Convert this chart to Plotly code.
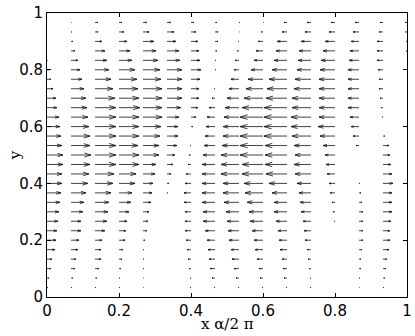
#!/usr/bin/env python3
"""
Quiver plot of the horizontal velocity field u(x, y) over one wavelength.
"""

import plotly.graph_objects as go

# --- Data: grid and horizontal velocity samples ---
# columns: x (in units of alpha/2pi), rows: y from top to bottom
x_cols = [0.0, 0.0667, 0.1333, 0.2, 0.2667, 0.3333, 0.4, 0.4667,
          0.5333, 0.6, 0.6667, 0.7333, 0.8, 0.8667, 0.9333, 1.0]

y_rows = [0.9667, 0.9333, 0.9, 0.8667, 0.8333, 0.8, 0.7667, 0.7333,
          0.7, 0.6667, 0.6333, 0.6, 0.5667, 0.5333, 0.5, 0.4667,
          0.4333, 0.4, 0.3667, 0.3333, 0.3, 0.2667, 0.2333, 0.2,
          0.1667, 0.1333, 0.1, 0.0667, 0.0333]

# u on the grid, one list per row of y_rows (v = 0 everywhere)
u_rows = [
    [0, 0.5, 3, 3, 4, 4, 3, 2, 1, 0.5, -3, -4, -4, -4, -3, -2],
    [0, 1, 3, 5, 6, 7, 5, 3, 0.5, -2, -5, -6, -6, -6, -4, -1.5],
    [0, 2, 7, 8, 11, 9, 7, 3, -1, -5, -10, -10, -10, -8, -6, -1],
    [0, 4, 10, 11, 13, 12, 8, 2, -2, -7, -11, -12, -12, -9, -6, -1],
    [0.5, 7, 12, 13, 15, 13, 9, 1, -4, -9, -13, -13, -14, -10, -6, 0],
    [2, 9, 14, 16, 17, 15, 10, 1, -5, -12, -15, -14, -15, -11, -5, 0],
    [4, 11, 16, 18, 18, 15, 9, 0, -8, -15, -18, -16, -16, -11, -4, 0],
    [6, 13, 18, 19, 19, 15, 8, -1, -10, -17, -20, -17, -16, -11, -4, 0],
    [9, 15, 20, 20, 19, 15, 8, -3, -12, -19, -21, -19, -16, -11, -3, 0],
    [10, 16, 21, 21, 19, 14, 7, -6, -14, -21, -23, -19, -16, -11, -2, 0],
    [12, 17, 21, 20, 19, 12, 5, -8, -15, -23, -23, -20, -16, -9, -1, 0],
    [13, 18, 21, 20, 18, 11, 2, -9, -16, -23, -23, -20, -17, -8, 0, 0],
    [14, 19, 21, 20, 17, 11, 0, -10, -16, -23, -23, -19, -15, -6, 2, 0],
    [15, 19, 21, 19, 16, 10, -1, -11, -17, -23, -22, -17, -12, -3, 6, 0],
    [16, 20, 21, 20, 16, 8, -2, -12, -18, -23, -22, -16, -10, 0, 7, 0],
    [16, 19, 21, 20, 13, 6, -3, -13, -18, -21, -22, -17, -9, 0, 8, 0],
    [15, 18, 19, 17, 12, 4, -5, -13, -18, -21, -21, -16, -8, 0, 9, 0],
    [15, 17, 18, 16, 10, 2, -6, -13, -16, -19, -18, -14, -6, 1, 10, 0],
    [14, 15, 16, 13, 9, 1, -7, -13, -16, -18, -15, -12, -5, 2, 9, 0],
    [13, 13, 14, 12, 8, 0, -7, -13, -15, -16, -13, -11, -3, 3, 9, 0],
    [12, 12, 13, 10, 6, 0, -6, -12, -13, -14, -13, -10, -2, 4, 9, 0],
    [11, 10, 12, 8, 5, 0, -6, -12, -12, -13, -11, -8, -1, 4, 8, 0],
    [10, 10, 10, 7, 4, 0, -6, -10, -11, -11, -9, -7, 0, 4, 7, 0],
    [9, 8, 7, 6, 2, 0, -5, -8, -10, -9, -8, -6, 0, 4, 7, 0],
    [8, 7, 6, 4, 1, 0, -4, -7, -8, -8, -7, -4, 0, 3, 6, 0],
    [5, 5, 6, 3, 1, 0, -3, -6, -7, -6, -5, -3, 0, 2, 4, 0],
    [4, 4, 4, 2, 1, 0, -2, -5, -5, -4, -4, -2, 0, 2, 3, 0],
    [2, 2, 2, 1, 0.5, 0, -1, -3, -3, -3, -3, -1, 0, 1, 2, 0],
    [1, 1, 1, 1, 0.5, 0, -1, -1, -1, -1, -1, -1, 0, 0.5, 1, 0],
]

tick_vals = [0, 0.2, 0.4, 0.6, 0.8, 1]
tick_text = ["0", "0.2", "0.4", "0.6", "0.8", "1"]

# --- quiver geometry (matlab-like arrows) ---
SCALE = 1 / 360      # x-units per unit of u
HEAD = 0.33          # head length relative to arrow length
WIDTH = 0.38         # head half-width relative to head length

xs, ys = [], []
for yv, row in zip(y_rows, u_rows):
    for xv, uv in zip(x_cols, row):
        if uv == 0:
            continue
        dx = uv * SCALE
        x1 = xv + dx
        xs += [xv, x1, None]
        ys += [yv, yv, None]
        hx = x1 - HEAD * dx
        hw = HEAD * WIDTH * abs(dx)
        xs += [hx, x1, hx, None]
        ys += [yv + hw, yv, yv - hw, None]

fig = go.Figure()
fig.add_trace(go.Scatter(x=xs, y=ys, mode="lines",
                         line=dict(color="#111", width=0.8),
                         hoverinfo="skip"))

fig.update_layout(
    width=415, height=336,
    margin=dict(l=47, r=8, t=13, b=39),
    paper_bgcolor="white", plot_bgcolor="white",
    showlegend=False,
    font=dict(family="DejaVu Sans", size=15, color="black"),
)

axis_style = dict(range=[0, 1], tickvals=tick_vals, ticktext=tick_text,
                  ticks="inside", ticklen=4, tickcolor="black",
                  showline=True, mirror="ticks", linecolor="black", linewidth=1,
                  showgrid=False, zeroline=False, automargin=False)

fig.update_xaxes(**axis_style)
fig.update_yaxes(**axis_style)

# axis labels (serif, like the original)
fig.add_annotation(text="x α/2 π", xref="paper", yref="paper",
                   x=0.5, y=-0.095, yanchor="middle", showarrow=False,
                   font=dict(family="DejaVu Serif", size=15))
fig.add_annotation(text="y", xref="paper", yref="paper",
                   x=-0.088, y=0.5, xanchor="center", textangle=-90,
                   showarrow=False,
                   font=dict(family="DejaVu Serif", size=15))

# drop the default page margin so the figure sits at the window's corner
fig.write_html("out.html", config={"displayModeBar": False},
               post_script="document.body.style.margin='0';")
